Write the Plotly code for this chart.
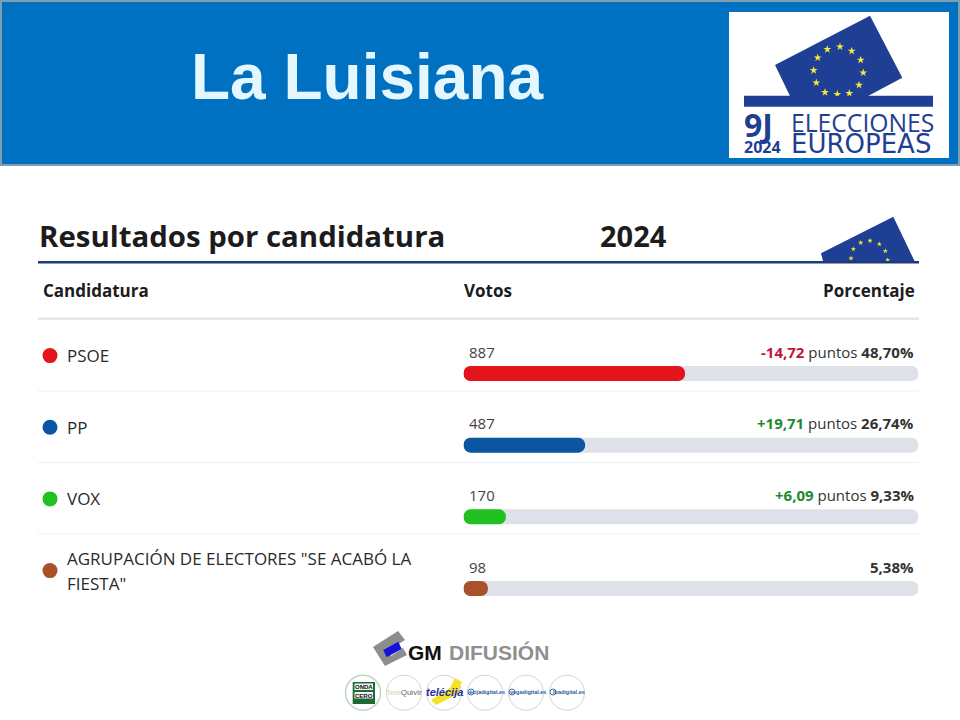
import plotly.graph_objects as go

# chart values
candidaturas = [['PSOE'], ['PP'], ['VOX'], ['AGRUPACIÓN DE ELECTORES "SE ACABÓ LA', 'FIESTA"']]
votos = [887, 487, 170, 98]
porcentajes = [48.70, 26.74, 9.33, 5.38]
porcentajes_txt = ['48,70%', '26,74%', '9,33%', '5,38%']
cambios = ['-14,72', '+19,71', '+6,09', '']
colores = ['#e3151a', '#0a56a0', '#22c122', '#a9512b']

W, H = 960, 720
BAR_H = 15
AZUL_UE = '#1f3f94'
TEXTO = '#1c1c1c'
FUENTE = 'Open Sans'


def px(x):
    return x / W


def py(y):
    return 1 - y / H


def poly(puntos, fill, line=None):
    path = 'M ' + ' L '.join(f'{px(x):.5f},{py(y):.5f}' for x, y in puntos) + ' Z'
    return dict(type='path', xref='paper', yref='paper', path=path, fillcolor=fill,
                line=dict(width=0 if line is None else 1, color=line or fill))


def rect(x0, y0, x1, y1, fill):
    return dict(type='rect', xref='paper', yref='paper', x0=px(x0), x1=px(x1), y0=py(y0), y1=py(y1),
                fillcolor=fill, line=dict(width=0))


def circle(cx, cy, r, fill, line='#d4d4d4', width=1):
    return dict(type='circle', xref='paper', yref='paper', x0=px(cx - r), x1=px(cx + r),
                y0=py(cy - r), y1=py(cy + r), fillcolor=fill, line=dict(width=width, color=line))


def text(x, y, s, size, color=TEXTO, anchor='left', family=FUENTE):
    # annotations carry about 2px of padding
    if anchor == 'left':
        x -= 2
    elif anchor == 'right':
        x += 2
    return dict(xref='paper', yref='paper', x=px(x), y=py(y), text=s, showarrow=False,
                xanchor=anchor, yanchor='middle', align=anchor,
                font=dict(family=family, size=size, color=color))


def star_shape(cx, cy, r, color='#f5e93a'):
    # five-pointed star, outer and inner points (unit offsets)
    pts = [(0, -1), (0.225, -0.309), (0.951, -0.309), (0.363, 0.118), (0.588, 0.809),
           (0, 0.382), (-0.588, 0.809), (-0.363, 0.118), (-0.951, -0.309), (-0.225, -0.309)]
    return poly([(cx + dx * r, cy + dy * r) for dx, dy in pts], color)


shapes = []
annotations = []

# banner
shapes.append(rect(0, 0, 960, 166, '#7e9fb2'))
shapes.append(rect(2, 2, 958, 164, '#0070c0'))
annotations.append(text(367, 77, '<b>La Luisiana</b>', 64, '#e4f6fe', 'center', 'Liberation Sans'))

# logo 9J
shapes.append(rect(729, 12, 949, 158, 'white'))
shapes.append(poly([(775, 65), (870, 15.7), (902.3, 77.7), (868, 96), (790, 96)], AZUL_UE))
estrellas_logo = [(840, 46.7), (851.7, 51), (860.7, 60), (863.3, 72.7), (859, 85), (849.3, 93.3),
                  (837.3, 94.3), (825, 92.3), (816.3, 82.7), (813.7, 70.3), (817.7, 57.7), (827.3, 49.3)]
for x, y in estrellas_logo:
    shapes.append(star_shape(x, y, 4.2))
shapes.append(rect(744, 95.7, 933, 106.7, AZUL_UE))
annotations.append(text(744, 124, '<b>9J</b>', 32, AZUL_UE))
annotations.append(text(744, 146.5, '<b>2024</b>', 16, AZUL_UE))
annotations.append(text(791, 122, 'ELECCIONES', 24.7, AZUL_UE))
annotations.append(text(791, 144, 'EUROPEAS', 26, AZUL_UE, 'left', 'DejaVu Sans'))

# cabecera de la tabla
annotations.append(text(39, 236, '<b>Resultados por candidatura</b>', 29.4))
annotations.append(text(633, 236, '<b>2024</b>', 29, TEXTO, 'center'))
shapes.append(poly([(821, 253.3), (893.3, 216.7), (915, 262), (823.3, 262)], AZUL_UE))
for x, y in [(851, 258.3), (853.3, 249), (860.7, 242.7), (870, 240.7), (879.3, 244), (885.3, 251), (887.7, 260)]:
    shapes.append(star_shape(x, y, 2.8))
shapes.append(rect(38, 261, 919, 263.5, '#1f3a7a'))
annotations.append(text(43, 290, '<b>Candidatura</b>', 17))
annotations.append(text(463.5, 290, '<b>Votos</b>', 17))
annotations.append(text(915, 290, '<b>Porcentaje</b>', 17, TEXTO, 'right'))
shapes.append(rect(38, 317.5, 919, 320, '#e6e6e6'))

# filas
for y in [390.5, 462, 533.5]:
    shapes.append(rect(38, y, 919, y + 1, '#eef0f3'))

NOMBRE_Y = [[355], [427], [498.5], [558, 583]]
for i in range(4):
    annotations.append(dict(xref='x', yref='y', x=0, y=i, xshift=3, yshift=22, text=str(votos[i]),
                            showarrow=False, xanchor='left', yanchor='middle',
                            font=dict(family=FUENTE, size=15, color='#444444')))
    if cambios[i]:
        c = '#c0143c' if cambios[i].startswith('-') else '#1e8a2e'
        label = f'<b><span style="color:{c}">{cambios[i]}</span></b> puntos <b>{porcentajes_txt[i]}</b>'
    else:
        label = f'<b>{porcentajes_txt[i]}</b>'
    annotations.append(dict(xref='x', yref='y', x=100, y=i, xshift=-3, yshift=22, text=label,
                            showarrow=False, xanchor='right', yanchor='middle', align='right',
                            font=dict(family=FUENTE, size=15, color='#333333')))
    for linea, y in zip(candidaturas[i], NOMBRE_Y[i]):
        annotations.append(text(67, y, linea, 17, '#2a2a2a'))

# pie: GM Difusión
shapes.append(poly([(373, 647), (398, 631), (405, 640), (389, 650), (391, 656), (403, 648), (407, 655), (385, 666)], '#8d8d8d'))
shapes.append(poly([(383.3, 650), (398.3, 641.7), (401.7, 649), (386.7, 657.3)], '#1414d8'))
annotations.append(text(408, 652, '<b>GM</b>', 21, '#111111', 'left', 'Liberation Sans'))
annotations.append(text(449, 652, '<b>DIFUSIÓN</b>', 21, '#8f8f8f', 'left', 'Liberation Sans'))

medios_x = [363, 404, 444, 485, 526, 567]
for i, x in enumerate(medios_x):
    if i == 0:
        shapes.append(circle(x, 692.7, 17.5, 'white', '#bcd8bc', 1.5))
    else:
        shapes.append(circle(x, 692.7, 17.5, 'white'))
shapes.append(rect(352.7, 682, 375, 704, '#1b6b33'))
shapes.append(rect(354.5, 683.5, 373, 690, '#f2f2f2'))
shapes.append(rect(354.5, 692, 373, 698.5, '#f2f2f2'))
annotations.append(text(363.7, 687, '<b>ONDA</b>', 6, '#111111', 'center', 'Liberation Sans'))
annotations.append(text(363.7, 695.5, '<b>CERO</b>', 6, '#111111', 'center', 'Liberation Sans'))
annotations.append(text(404, 692, '<span style="color:#c8dc9c">Tele</span><span style="color:#666666">Quivir</span>', 8, '#666666', 'center', 'Liberation Sans'))
shapes.append(poly([(431, 700), (450, 688), (455, 678), (462, 682), (458, 694), (436, 705)], '#f5e12a'))
annotations.append(text(444, 692, '<b><i>telécija</i></b>', 11, '#1c2f9c', 'center', 'Liberation Sans'))
for x, s in zip(medios_x[3:], ['écijadigital.es', 'vegadigital.es', 'lbadigital.es']):
    shapes.append(circle(x - 14, 692, 3, 'white', '#3a6fb0', 1))
    annotations.append(text(x + 2, 692, f'<b>{s}</b>', 5.5, '#2a5a9c', 'center', 'Liberation Sans'))

# barras
row_h = 71.67
y_top = 373.5 - row_h / 2
y_bottom = y_top + 4 * row_h
filas = list(range(4))

fig = go.Figure()
# with base set, plotly rounds both ends of the bar
fig.add_trace(go.Bar(
    y=filas, x=[100] * 4, base=0, orientation='h',
    width=BAR_H / row_h, marker=dict(color='#dfe1e8', cornerradius=BAR_H / 2, line=dict(width=0)),
    hoverinfo='skip', showlegend=False
))
fig.add_trace(go.Bar(
    y=filas, x=porcentajes, base=0, orientation='h',
    width=BAR_H / row_h, marker=dict(color=colores, cornerradius=BAR_H / 2, line=dict(width=0)),
    showlegend=False
))
# puntos de color junto al nombre
fig.add_trace(go.Scatter(
    x=[50] * 4, y=[f - 0.25 for f in filas], xaxis='x2', mode='markers',
    marker=dict(size=15, color=colores, line=dict(width=0)),
    text=[' '.join(c) for c in candidaturas], hoverinfo='text', showlegend=False, cliponaxis=False
))

fig.update_layout(
    width=W, height=H,
    margin=dict(l=0, r=0, t=0, b=0),
    paper_bgcolor='white', plot_bgcolor='rgba(0,0,0,0)',
    barmode='overlay',
    xaxis=dict(domain=[px(463.5), px(918.5)], range=[0, 100], visible=False, fixedrange=True),
    xaxis2=dict(domain=[0, 1], range=[0, W], anchor='y', visible=False, fixedrange=True),
    yaxis=dict(domain=[py(y_bottom), py(y_top)], range=[3.5, -0.5], visible=False, fixedrange=True),
    shapes=shapes,
    annotations=annotations,
)

fig.write_html("out.html", config=dict(displayModeBar=False), post_script="document.body.style.margin='0';")
